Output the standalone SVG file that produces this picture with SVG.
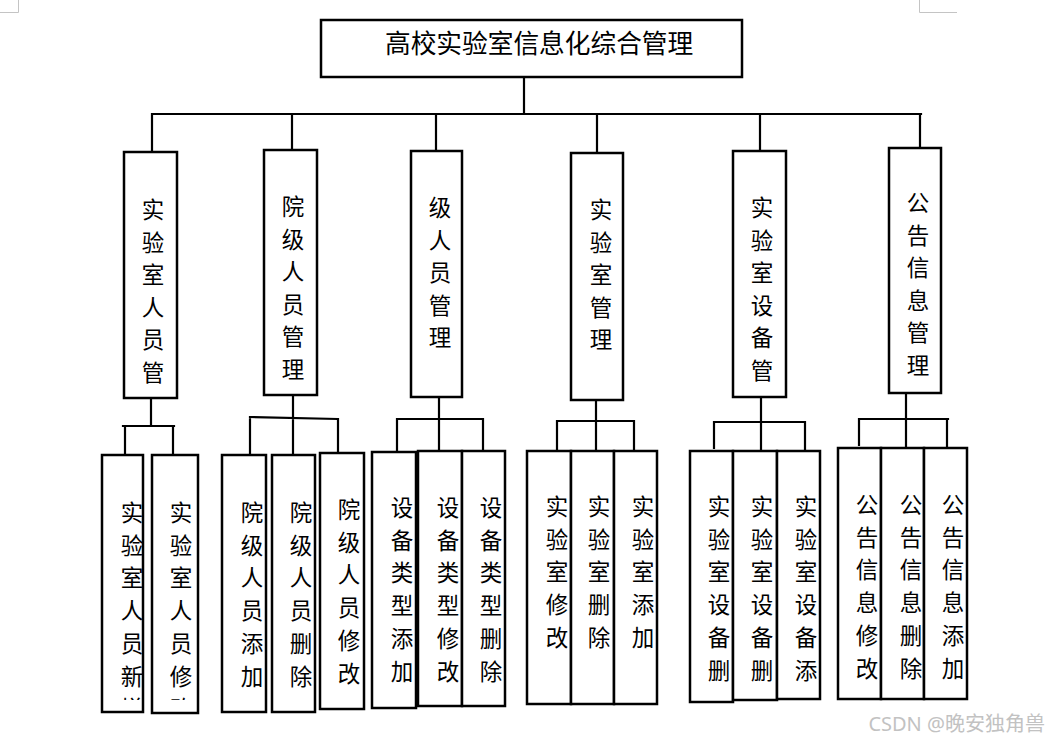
<svg xmlns="http://www.w3.org/2000/svg" width="1050" height="741" viewBox="0 0 1050 741">
<style>
.box{fill:#fff;stroke:#000;stroke-width:2.5}
.ln{stroke:#000;stroke-width:2.2;fill:none;stroke-linecap:square}
.t{font-family:"Noto Sans CJK SC","Noto Sans CJK JP",sans-serif;font-size:22.5px;fill:#000;text-anchor:middle}
.title{font-family:"Noto Sans CJK SC","Noto Sans CJK JP",sans-serif;font-size:25.7px;fill:#000}
.corner{stroke:#c4c4c4;stroke-width:1;fill:none}
.wm{font-family:"Noto Sans","Noto Sans CJK SC",sans-serif;font-size:20px;fill:#c2c2c2;text-anchor:end}
</style>
<defs>
<clipPath id="cA"><rect x="102" y="455" width="42" height="245"/></clipPath>
<clipPath id="cB"><rect x="152" y="455" width="46" height="245"/></clipPath>
</defs>
<rect width="1050" height="741" fill="#fff"/>
<path class="corner" d="M18.5,0V12.5H0M919.5,0V12.5H957"/>
<g id="connectors">
<path class="ln" d="M524,78V114M152,114H921M152,114V152M292,114V150M436,114V151M597,114V153M760,114V151M920,114V148"/>
<path class="ln" d="M151,398V426M123,426H174M125,426V455M173,426V456"/>
<path class="ln" d="M293,395V454M250,417L338,419M250,417V455M338,419V453"/>
<path class="ln" d="M439,397V451M397,419H483M397,419V452M483,419V451"/>
<path class="ln" d="M596,400V450M557,421H634M557,421V450M634,421V449"/>
<path class="ln" d="M761,397V451M714,422H805M714,422V448M805,422V451"/>
<path class="ln" d="M906,393V448M859,419H948M859,419V445M947,419V446"/>
</g>
<g id="root">
<rect class="box" x="321" y="20" width="421" height="57"/>
<text class="title" x="385" y="53">高校实验室信息化综合管理</text>
</g>
<g id="n1">
<rect class="box" x="124" y="152" width="53" height="246"/>
<text class="t"><tspan x="153" y="218">实</tspan><tspan x="153" dy="32.6">验</tspan><tspan x="153" dy="32.6">室</tspan><tspan x="153" dy="32.6">人</tspan><tspan x="153" dy="32.6">员</tspan><tspan x="153" dy="32.6">管</tspan></text>
</g>
<g id="n2">
<rect class="box" x="264" y="150" width="53" height="245"/>
<text class="t"><tspan x="293" y="215">院</tspan><tspan x="293" dy="32.6">级</tspan><tspan x="293" dy="32.6">人</tspan><tspan x="293" dy="32.6">员</tspan><tspan x="293" dy="32.6">管</tspan><tspan x="293" dy="32.6">理</tspan></text>
</g>
<g id="n3">
<rect class="box" x="411" y="151" width="51" height="246"/>
<text class="t"><tspan x="440" y="216">级</tspan><tspan x="440" dy="32.6">人</tspan><tspan x="440" dy="32.6">员</tspan><tspan x="440" dy="32.6">管</tspan><tspan x="440" dy="32.6">理</tspan></text>
</g>
<g id="n4">
<rect class="box" x="571" y="153" width="52" height="247"/>
<text class="t"><tspan x="601" y="218">实</tspan><tspan x="601" dy="32.6">验</tspan><tspan x="601" dy="32.6">室</tspan><tspan x="601" dy="32.6">管</tspan><tspan x="601" dy="32.6">理</tspan></text>
</g>
<g id="n5">
<rect class="box" x="733" y="151" width="53" height="246"/>
<text class="t"><tspan x="762" y="216">实</tspan><tspan x="762" dy="32.6">验</tspan><tspan x="762" dy="32.6">室</tspan><tspan x="762" dy="32.6">设</tspan><tspan x="762" dy="32.6">备</tspan><tspan x="762" dy="32.6">管</tspan></text>
</g>
<g id="n6">
<rect class="box" x="889" y="148" width="52" height="245"/>
<text class="t"><tspan x="918" y="211">公</tspan><tspan x="918" dy="32.6">告</tspan><tspan x="918" dy="32.6">信</tspan><tspan x="918" dy="32.6">息</tspan><tspan x="918" dy="32.6">管</tspan><tspan x="918" dy="32.6">理</tspan></text>
</g>
<g id="n1a">
<rect class="box" x="102" y="455" width="41" height="257"/>
<text class="t" clip-path="url(#cA)"><tspan x="132" y="521">实</tspan><tspan x="132" dy="32.7">验</tspan><tspan x="132" dy="32.7">室</tspan><tspan x="132" dy="32.7">人</tspan><tspan x="132" dy="32.7">员</tspan><tspan x="132" dy="32.7">新</tspan><tspan x="132" dy="32.7">增</tspan></text>
</g>
<g id="n1b">
<rect class="box" x="152" y="455" width="46" height="258"/>
<text class="t" clip-path="url(#cB)"><tspan x="181" y="521">实</tspan><tspan x="181" dy="32.7">验</tspan><tspan x="181" dy="32.7">室</tspan><tspan x="181" dy="32.7">人</tspan><tspan x="181" dy="32.7">员</tspan><tspan x="181" dy="32.7">修</tspan><tspan x="181" dy="32.7">改</tspan></text>
</g>
<g id="n2a">
<rect class="box" x="222" y="455" width="44" height="257"/>
<text class="t"><tspan x="252" y="521">院</tspan><tspan x="252" dy="32.7">级</tspan><tspan x="252" dy="32.7">人</tspan><tspan x="252" dy="32.7">员</tspan><tspan x="252" dy="32.7">添</tspan><tspan x="252" dy="32.7">加</tspan></text>
</g>
<g id="n2b">
<rect class="box" x="272" y="455" width="43" height="257"/>
<text class="t"><tspan x="301" y="521">院</tspan><tspan x="301" dy="32.7">级</tspan><tspan x="301" dy="32.7">人</tspan><tspan x="301" dy="32.7">员</tspan><tspan x="301" dy="32.7">删</tspan><tspan x="301" dy="32.7">除</tspan></text>
</g>
<g id="n2c">
<rect class="box" x="320" y="453" width="44" height="256"/>
<text class="t"><tspan x="349" y="518">院</tspan><tspan x="349" dy="32.7">级</tspan><tspan x="349" dy="32.7">人</tspan><tspan x="349" dy="32.7">员</tspan><tspan x="349" dy="32.7">修</tspan><tspan x="349" dy="32.7">改</tspan></text>
</g>
<g id="n3a">
<rect class="box" x="372" y="452" width="44" height="256"/>
<text class="t"><tspan x="402" y="516">设</tspan><tspan x="402" dy="32.7">备</tspan><tspan x="402" dy="32.7">类</tspan><tspan x="402" dy="32.7">型</tspan><tspan x="402" dy="32.7">添</tspan><tspan x="402" dy="32.7">加</tspan></text>
</g>
<g id="n3b">
<rect class="box" x="418" y="451" width="44" height="255"/>
<text class="t"><tspan x="448" y="516">设</tspan><tspan x="448" dy="32.7">备</tspan><tspan x="448" dy="32.7">类</tspan><tspan x="448" dy="32.7">型</tspan><tspan x="448" dy="32.7">修</tspan><tspan x="448" dy="32.7">改</tspan></text>
</g>
<g id="n3c">
<rect class="box" x="462" y="451" width="43" height="255"/>
<text class="t"><tspan x="491" y="516">设</tspan><tspan x="491" dy="32.7">备</tspan><tspan x="491" dy="32.7">类</tspan><tspan x="491" dy="32.7">型</tspan><tspan x="491" dy="32.7">删</tspan><tspan x="491" dy="32.7">除</tspan></text>
</g>
<g id="n4a">
<rect class="box" x="527" y="451" width="44" height="253"/>
<text class="t"><tspan x="557" y="515">实</tspan><tspan x="557" dy="32.7">验</tspan><tspan x="557" dy="32.7">室</tspan><tspan x="557" dy="32.7">修</tspan><tspan x="557" dy="32.7">改</tspan></text>
</g>
<g id="n4b">
<rect class="box" x="571" y="451" width="43" height="253"/>
<text class="t"><tspan x="599" y="515">实</tspan><tspan x="599" dy="32.7">验</tspan><tspan x="599" dy="32.7">室</tspan><tspan x="599" dy="32.7">删</tspan><tspan x="599" dy="32.7">除</tspan></text>
</g>
<g id="n4c">
<rect class="box" x="614" y="451" width="43" height="253"/>
<text class="t"><tspan x="643" y="515">实</tspan><tspan x="643" dy="32.7">验</tspan><tspan x="643" dy="32.7">室</tspan><tspan x="643" dy="32.7">添</tspan><tspan x="643" dy="32.7">加</tspan></text>
</g>
<g id="n5a">
<rect class="box" x="690" y="451" width="43" height="251"/>
<text class="t"><tspan x="719" y="515">实</tspan><tspan x="719" dy="32.7">验</tspan><tspan x="719" dy="32.7">室</tspan><tspan x="719" dy="32.7">设</tspan><tspan x="719" dy="32.7">备</tspan><tspan x="719" dy="32.7">删</tspan></text>
</g>
<g id="n5b">
<rect class="box" x="733" y="451" width="44" height="249"/>
<text class="t"><tspan x="762" y="515">实</tspan><tspan x="762" dy="32.7">验</tspan><tspan x="762" dy="32.7">室</tspan><tspan x="762" dy="32.7">设</tspan><tspan x="762" dy="32.7">备</tspan><tspan x="762" dy="32.7">删</tspan></text>
</g>
<g id="n5c">
<rect class="box" x="777" y="451" width="43" height="248"/>
<text class="t"><tspan x="806" y="515">实</tspan><tspan x="806" dy="32.7">验</tspan><tspan x="806" dy="32.7">室</tspan><tspan x="806" dy="32.7">设</tspan><tspan x="806" dy="32.7">备</tspan><tspan x="806" dy="32.7">添</tspan></text>
</g>
<g id="n6a">
<rect class="box" x="838" y="448" width="43" height="251"/>
<text class="t"><tspan x="867" y="513">公</tspan><tspan x="867" dy="32.7">告</tspan><tspan x="867" dy="32.7">信</tspan><tspan x="867" dy="32.7">息</tspan><tspan x="867" dy="32.7">修</tspan><tspan x="867" dy="32.7">改</tspan></text>
</g>
<g id="n6b">
<rect class="box" x="881" y="448" width="43" height="251"/>
<text class="t"><tspan x="911" y="513">公</tspan><tspan x="911" dy="32.7">告</tspan><tspan x="911" dy="32.7">信</tspan><tspan x="911" dy="32.7">息</tspan><tspan x="911" dy="32.7">删</tspan><tspan x="911" dy="32.7">除</tspan></text>
</g>
<g id="n6c">
<rect class="box" x="924" y="448" width="43" height="251"/>
<text class="t"><tspan x="953" y="513">公</tspan><tspan x="953" dy="32.7">告</tspan><tspan x="953" dy="32.7">信</tspan><tspan x="953" dy="32.7">息</tspan><tspan x="953" dy="32.7">添</tspan><tspan x="953" dy="32.7">加</tspan></text>
</g>
<text class="wm" x="1045" y="731">CSDN @晚安独角兽</text>
</svg>
